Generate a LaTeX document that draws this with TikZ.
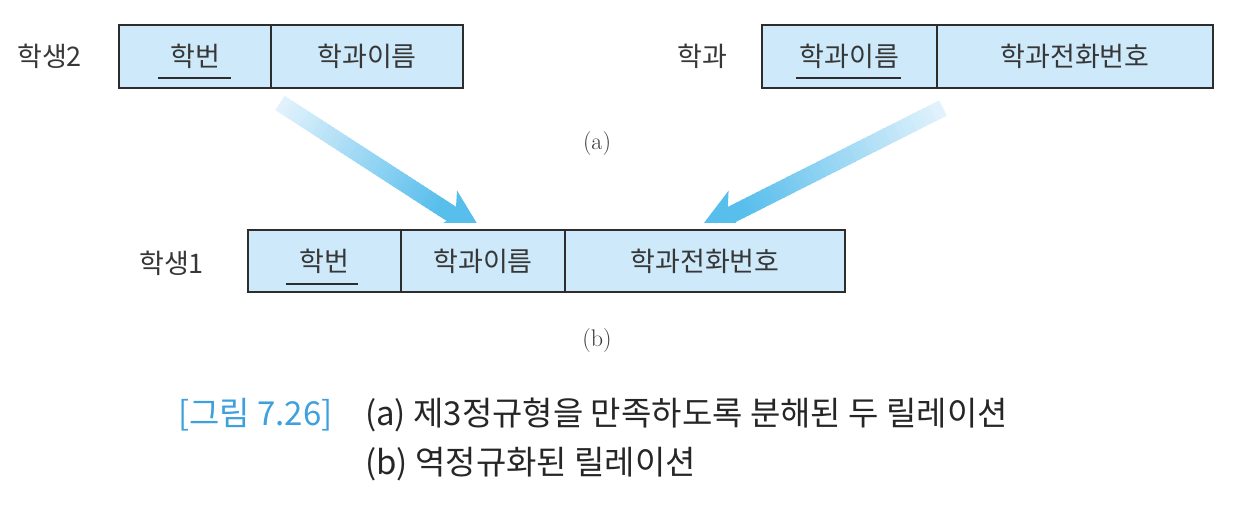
\documentclass[tikz,border=0pt]{standalone}
\usepackage{fontspec}
\newfontfamily\kr{Noto Sans CJK KR}
\usetikzlibrary{arrows.meta,calc}
\definecolor{cellfill}{RGB}{206,233,250}
\definecolor{edge}{RGB}{45,45,45}
\definecolor{txt}{RGB}{55,55,55}
\definecolor{arrowblue}{RGB}{88,190,236}
\definecolor{arrowlight}{RGB}{226,242,252}
\definecolor{capblue}{RGB}{62,160,220}
\begin{document}
\begin{tikzpicture}[x=1pt,y=-1pt,
  cell/.style={draw=edge, fill=cellfill, line width=1.8pt, inner sep=0pt, outer sep=0pt,
    anchor=north west, minimum height=63pt, text=txt, font=\kr\fontsize{27}{30}\selectfont},
  rel/.style={anchor=base west, inner sep=0pt, text=txt, font=\kr\fontsize{27}{30}\selectfont},
  keyline/.style={draw=edge, line width=1.8pt},
  sub/.style={text=txt, inner sep=0pt, font=\fontsize{24}{28}\selectfont},
  captext/.style={anchor=base west, inner sep=0pt, text=black!85, font=\kr\fontsize{33}{36}\selectfont},
  shaft/.style={line width=17pt, line cap=butt},
  bigtip/.style={arrowblue, line width=17pt, -{Stealth[length=46pt,width=44pt,inset=12pt]}}]
\useasboundingbox (0,0) rectangle (1240,516);

% (a) top-left relation
\node[rel] (l2) at (17,67) {학생2};
\node[cell, minimum width=152pt] (a1) at (119,25) {학번};
\node[cell, minimum width=192pt] (a2) at (a1.north east) {학과이름};
\draw[keyline] ([shift={(-37,21.5)}]a1.center) -- ([shift={(36,21.5)}]a1.center);

% (a) top-right relation
\node[rel] (ld) at (677,67) {학과};
\node[cell, minimum width=175pt] (d1) at (762,25) {학과이름};
\node[cell, minimum width=276pt] (d2) at (d1.north east) {학과전화번호};
\draw[keyline] ([shift={(-54,21.5)}]d1.center) -- ([shift={(51,21.5)}]d1.center);

\node[sub] (la) at (597,144) {(a)};

% (b) bottom relation
\node[rel] (l1) at (139,273) {학생1};
\node[cell, minimum width=153pt, minimum height=62pt] (b1) at (248,230) {학번};
\node[cell, minimum width=164pt, minimum height=62pt] (b2) at (b1.north east) {학과이름};
\node[cell, minimum width=280pt, minimum height=62pt] (b3) at (b2.north east) {학과전화번호};
\draw[keyline] ([shift={(-39,23)}]b1.center) -- ([shift={(33,23)}]b1.center);

\node[sub] (lb) at (597,341) {(b)};

% gradient arrows (tips cut off just above the lower relation)
\begin{scope}
\clip (0,0) rectangle (1240,222);
\coordinate (s1) at (280,103);
\coordinate (t1) at (484,235);
\coordinate (h1) at ($(t1)!50pt!(s1)$);
\foreach \i in {0,...,39}{
  \pgfmathtruncatemacro\p{\i*100/39}
  \draw[shaft, arrowblue!\p!arrowlight] ($(s1)!\i/40!(h1)$) -- ($(s1)!{(\i+1.4)/40}!(h1)$);
}
\draw[bigtip] (h1) -- (t1);

\coordinate (s2) at (943,108);
\coordinate (t2) at (697,232);
\coordinate (h2) at ($(t2)!50pt!(s2)$);
\foreach \i in {0,...,39}{
  \pgfmathtruncatemacro\p{\i*100/39}
  \draw[shaft, arrowblue!\p!arrowlight] ($(s2)!\i/40!(h2)$) -- ($(s2)!{(\i+1.4)/40}!(h2)$);
}
\draw[bigtip] (h2) -- (t2);
\end{scope}

% caption
\node[captext, text=capblue] (c0) at (178,425.5) {[그림 7.26]};
\node[captext] (c1) at (365,425.5) {(a) 제3정규형을 만족하도록 분해된 두 릴레이션};
\node[captext] (c2) at (365,474.5) {(b) 역정규화된 릴레이션};
\end{tikzpicture}
\end{document}
